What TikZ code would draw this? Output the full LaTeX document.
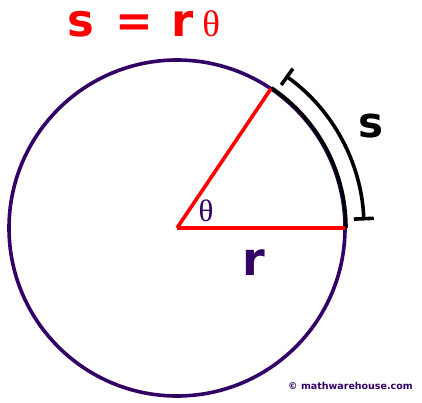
\documentclass[tikz,border=0pt]{standalone}
\usepackage{fontspec}
\setsansfont{DejaVu Sans}
\newfontfamily\thetafont{Liberation Serif}
\usetikzlibrary{arrows.meta,positioning}
\definecolor{arcpurple}{HTML}{330066}
\definecolor{arcred}{HTML}{FF0000}

\begin{document}
\begin{tikzpicture}[
        x=1pt, y=1pt,
        thick line/.style={line width=3.6pt},
        radius line/.style={thick line, draw=arcred},
        every node/.style={inner sep=0pt}
    ]
    \useasboundingbox (0,0) rectangle (422,402);

    % Points
    \coordinate (O) at (177,174);
    \coordinate (A) at ([shift={(0:168)}]O);
    \coordinate (B) at ([shift={(56:168)}]O);
    \coordinate (S1) at ([shift={(2.3:187)}]O);

    % Circle and arcs
    \draw[thick line, arcpurple] (O) circle[radius=168];
    \draw[thick line] ([shift={(0:169)}]O) arc[start angle=0, end angle=56, radius=169];
    \draw[thick line, {Bar[width=20pt]}-{Bar[width=20pt]}] (S1) arc[start angle=2.3, end angle=54.5, radius=187];

    % Radii
    \draw[radius line] (O) -- (A);
    \draw[radius line] (O) -- (B);

    % Labels
    \node[anchor=base west, text=arcred] (formula) at (67,365)
        {\sffamily\bfseries\fontsize{45}{45}\selectfont s\hspace{0.48em}=\hspace{0.4em}r\hspace{0.2em}{\thetafont\mdseries\fontsize{37}{37}\selectfont θ}};
    \node[font=\sffamily\bfseries\fontsize{42}{42}\selectfont] (arclen) at (371,275.5) {s};
    \node[text=arcpurple, font=\sffamily\bfseries\fontsize{46}{46}\selectfont] (radius) at (254,139) {r};
    \node[text=arcpurple, font=\thetafont\fontsize{31}{31}\selectfont] (angle) at (206,191) {θ};
    \node[anchor=base west, text=arcpurple, font=\sffamily\bfseries\fontsize{9.5}{10}\selectfont] (credit) at (288,13)
        {© mathwarehouse.com};

\end{tikzpicture}
\end{document}
